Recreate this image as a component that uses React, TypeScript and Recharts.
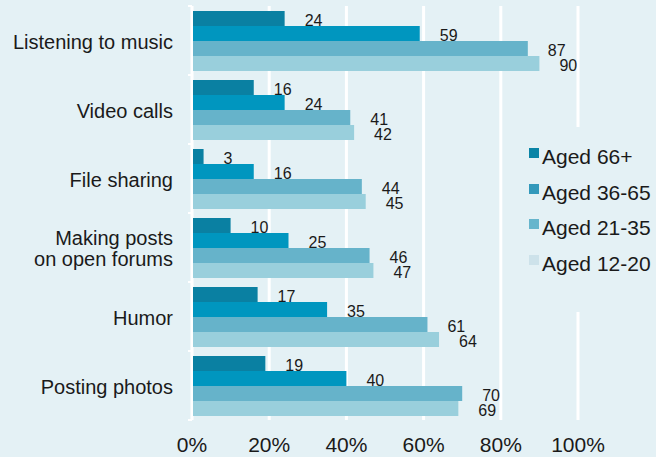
import React from 'react';
import { BarChart, Bar, XAxis, YAxis, CartesianGrid, LabelList } from 'recharts';

const categories = [
  'Listening to music',
  'Video calls',
  'File sharing',
  'Making posts\non open forums',
  'Humor',
  'Posting photos',
];
const aged66 = [24, 16, 3, 10, 17, 19];
const aged36 = [59, 24, 16, 25, 35, 40];
const aged21 = [87, 41, 44, 46, 61, 70];
const aged12 = [90, 42, 45, 47, 64, 69];
const xTicks = [0, 20, 40, 60, 80, 100];
const seriesNames = ['Aged 66+', 'Aged 36-65', 'Aged 21-35', 'Aged 12-20'];

const barColors = ['#0a80a2', '#0096bf', '#66b3ca', '#99cfdc'];
const swatchColors = ['#0a84a6', '#3399bb', '#66b5cc', '#cde2ea'];
const seriesKeys = ['a66', 'a36', 'a21', 'a12'];

const data = categories.map((c, i) => ({
  name: c,
  a66: aged66[i],
  a36: aged36[i],
  a21: aged21[i],
  a12: aged12[i],
}));

const FONT = '"Liberation Sans", Arial, Helvetica, sans-serif';
const BG = '#e4f1f5';
const W = 656;
const H = 457;
const MARGIN = { top: 6, right: 78, bottom: 0, left: 0 };
const Y_WIDTH = 192;
const X_HEIGHT = 37;
const PLOT_H = H - MARGIN.top - MARGIN.bottom - X_HEIGHT;
const BAND = PLOT_H / categories.length;
const TICK_MARGIN = 19;

const CategoryTick = (props: any) => {
  const { x, y, payload, index } = props;
  const lines = String(payload.value).split('\n');
  const lh = 20.5;
  const axisX = x + TICK_MARGIN;
  const startY = y + 1 - ((lines.length - 1) * lh) / 2;
  return (
    <g>
      {lines.map((l, i) => (
        <text
          key={i}
          x={x}
          y={startY + i * lh}
          textAnchor="end"
          dominantBaseline="central"
          fontSize={20}
          fontFamily={FONT}
          fill="#1a1a1a"
        >
          {l}
        </text>
      ))}
      <line x1={axisX - 4} x2={axisX} y1={y - BAND / 2} y2={y - BAND / 2} stroke="#ffffff" strokeWidth={2} />
      {index === categories.length - 1 && (
        <line x1={axisX - 4} x2={axisX} y1={y + BAND / 2} y2={y + BAND / 2} stroke="#ffffff" strokeWidth={2} />
      )}
    </g>
  );
};

const ValueLabel = (props: any) => {
  const { x, y, width, height, value } = props;
  return (
    <text
      x={x + width + 20}
      y={y + height / 2 + 1.5}
      textAnchor="start"
      dominantBaseline="central"
      fontSize={16}
      fontFamily={FONT}
      fill="#1a1a1a"
    >
      {value}
    </text>
  );
};

export default function App() {
  return (
    <div style={{ position: 'absolute', left: 0, top: 0, width: W, height: H, background: BG, fontFamily: FONT }}>
      <BarChart
        width={W}
        height={H}
        data={data}
        layout="vertical"
        margin={MARGIN}
        barCategoryGap={5}
        barGap={0}
      >
        <CartesianGrid horizontal={false} vertical stroke="#ffffff" strokeWidth={3} />
        <XAxis
          type="number"
          domain={[0, 100]}
          ticks={xTicks}
          tickFormatter={(v: number) => `${v}%`}
          axisLine={false}
          tickLine={false}
          tickSize={0}
          tickMargin={17}
          height={X_HEIGHT}
          tick={{ fontSize: 21, fontFamily: FONT, fill: '#1a1a1a' }}
          interval={0}
        />
        <YAxis
          type="category"
          dataKey="name"
          width={Y_WIDTH}
          axisLine={{ stroke: '#ffffff', strokeWidth: 2 }}
          tickLine={false}
          tickSize={0}
          tickMargin={TICK_MARGIN}
          tick={<CategoryTick />}
          interval={0}
        />
        {seriesKeys.map((k, i) => (
          <Bar key={k} dataKey={k} name={seriesNames[i]} fill={barColors[i]} isAnimationActive={false}>
            <LabelList dataKey={k} content={<ValueLabel />} />
          </Bar>
        ))}
      </BarChart>
      <div
        style={{
          position: 'absolute',
          left: 505,
          top: 127,
          width: W - 505,
          height: 185,
          background: BG,
        }}
      >
        {seriesNames.map((n, i) => (
          <div
            key={n}
            style={{
              position: 'absolute',
              left: 24,
              top: 18 + i * 35.7,
              height: 24,
              display: 'flex',
              alignItems: 'flex-start',
            }}
          >
            <div style={{ width: 10, height: 10, background: swatchColors[i], marginTop: 3, marginRight: 3 }} />
            <span style={{ fontSize: 21, lineHeight: '24px', color: '#1a1a1a', whiteSpace: 'nowrap' }}>{n}</span>
          </div>
        ))}
      </div>
    </div>
  );
}
